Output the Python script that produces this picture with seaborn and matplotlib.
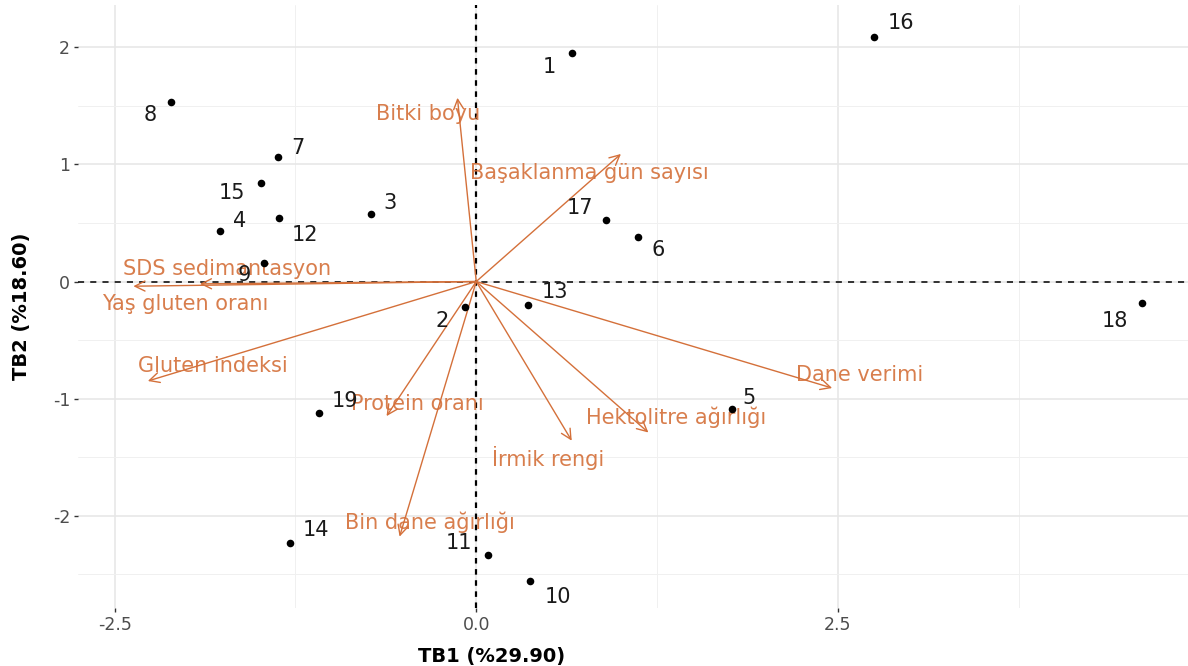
import matplotlib
matplotlib.use("Agg")
import matplotlib.pyplot as plt
import seaborn as sns
import pandas as pd
import numpy as np
from matplotlib.ticker import MultipleLocator

# ---- data ----
genotypes = ["1", "2", "3", "4", "5", "6", "7", "8", "9", "10",
             "11", "12", "13", "14", "15", "16", "17", "18", "19"]
tb1 = [0.66, -0.08, -0.73, -1.77, 1.77, 1.12, -1.37, -2.11, -1.47, 0.37,
       0.08, -1.36, 0.36, -1.29, -1.49, 2.75, 0.90, 4.60, -1.09]
tb2 = [1.95, -0.22, 0.58, 0.43, -1.09, 0.38, 1.06, 1.53, 0.16, -2.56,
       -2.34, 0.54, -0.20, -2.23, 0.84, 2.09, 0.53, -0.18, -1.12]
# label placement direction (dx, dy) in points
lab_dx = [-16, -16, 14, 14, 12, 14, 14, -15, -14, 20, -21, 18, 19.5, 19, -21, 19.5, -19, -19, 19]
lab_dy = [-9.5, -10, 8, 7, 8, -9, 7, -9, -9, -11.5, 9, -12, 9, 9, -7, 10, 8, -13, 8]

variables = ["Bitki boyu", "Başaklanma gün sayısı", "SDS sedimantasyon",
             "Yaş gluten oranı", "Gluten indeksi", "Protein oranı",
             "Bin dane ağırlığı", "İrmik rengi", "Hektolitre ağırlığı",
             "Dane verimi"]
load1 = [-0.13, 1.00, -1.91, -2.37, -2.27, -0.62, -0.53, 0.66, 1.19, 2.46]
load2 = [1.57, 1.09, -0.02, -0.04, -0.85, -1.15, -2.18, -1.36, -1.29, -0.91]
var_lx = [-0.33, 0.78, -1.72, -2.01, -1.82, -0.41, -0.32, 0.50, 1.38, 2.65]
var_ly = [1.43, 0.93, 0.11, -0.19, -0.72, -1.05, -2.06, -1.51, -1.16, -0.80]

xlab = "TB1 (%29.90)"
ylab = "TB2 (%18.60)"

df = pd.DataFrame({"TB1": tb1, "TB2": tb2, "g": genotypes})

sns.set_theme(style="whitegrid")
plt.rcParams["font.family"] = ["DejaVu Sans"]

fig = plt.figure(figsize=(11.88, 6.66), dpi=100)
ax = fig.add_axes([0.066, 0.087, 0.934, 0.905])

acol = "#D4703A"
ax.axhline(0, color="black", lw=1.1, ls=(0, (4, 4)), zorder=2)
ax.axvline(0, color="black", lw=1.6, ls=(0, (2.5, 2.5)), zorder=2)

for v, x, y, lx, ly in zip(variables, load1, load2, var_lx, var_ly):
    ax.annotate("", xy=(x, y), xytext=(0, 0),
                arrowprops=dict(arrowstyle="->,head_length=0.6,head_width=0.3",
                                color=acol, lw=1.0, shrinkA=0, shrinkB=0),
                zorder=3)
    ax.text(lx, ly, v, color=acol, fontsize=15, ha="center", va="center",
            alpha=0.9, zorder=4)

sns.scatterplot(data=df, x="TB1", y="TB2", color="black", s=30,
                edgecolor="black", linewidth=0, ax=ax, zorder=5)

for g, x, y, dx, dy in zip(genotypes, tb1, tb2, lab_dx, lab_dy):
    ax.annotate(g, xy=(x, y), xytext=(dx, dy), textcoords="offset points",
                ha="center", va="center", fontsize=15, color="#1a1a1a", zorder=6)

ax.set_xlim(-2.75, 4.92)
ax.set_ylim(-2.79, 2.36)
ax.xaxis.set_major_locator(MultipleLocator(2.5))
ax.xaxis.set_minor_locator(MultipleLocator(1.25))
ax.yaxis.set_major_locator(MultipleLocator(1))
ax.yaxis.set_minor_locator(MultipleLocator(0.5))
ax.set_xticks([-2.5, 0.0, 2.5])
ax.set_xticklabels(["-2.5", "0.0", "2.5"])
ax.set_yticks([-2, -1, 0, 1, 2])
ax.set_yticklabels(["-2", "-1", "0", "1", "2"])
ax.grid(which="major", color="#E6E6E6", lw=1.1)
ax.grid(which="minor", color="#F0F0F0", lw=0.7)
for s in ax.spines.values():
    s.set_visible(False)
ax.set_facecolor("white")
ax.tick_params(axis="both", which="major", length=3, width=1, color="#333333",
               labelsize=12.5, labelcolor="#4D4D4D", pad=3, bottom=True, left=True)
ax.tick_params(which="minor", length=0)

ax.set_xlabel(xlab, fontsize=14, fontweight="bold", color="black")
ax.xaxis.set_label_coords(0.372, -0.065)
ax.set_ylabel(ylab, fontsize=14, fontweight="bold", color="black")
ax.yaxis.set_label_coords(-0.043, 0.5)

fig.savefig("out.png", dpi=100)
